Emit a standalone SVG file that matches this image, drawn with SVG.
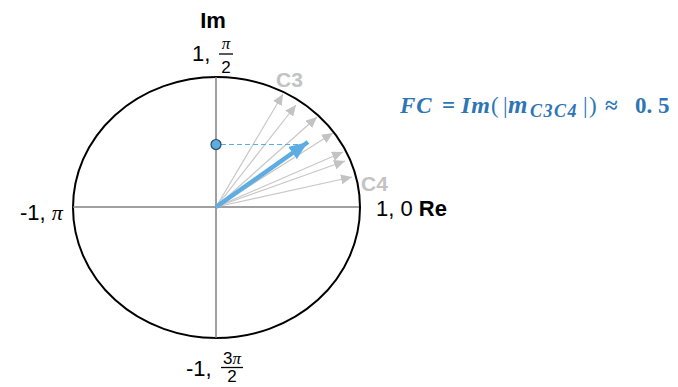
<svg xmlns="http://www.w3.org/2000/svg" width="678" height="387" viewBox="0 0 678 387">
<style>
.lbl{font-family:"Liberation Sans",Arial,sans-serif;font-size:22px;fill:#000}
.b{font-weight:bold}
.frac{font-family:"Liberation Sans",Arial,sans-serif;font-size:17px;fill:#000}
.pi{font-family:"Liberation Serif","DejaVu Serif",serif;font-style:italic}
.cl{font-family:"Liberation Sans",Arial,sans-serif;font-size:21px;font-weight:bold;fill:#c3c3c3}
.gray{stroke:#c8c8c8;stroke-width:1.2;fill:none}
.fx{font-family:"Liberation Serif","DejaVu Serif",serif;font-weight:bold;fill:#2e75b6;font-size:23px}
</style>
<defs>
<marker id="ga" markerUnits="userSpaceOnUse" markerWidth="12" markerHeight="10" refX="11" refY="5" orient="auto">
<path d="M0,0 L11,5 L0,10 Z" fill="#c3c3c3"/>
</marker>
<marker id="ba" markerUnits="userSpaceOnUse" markerWidth="20" markerHeight="15" refX="19" refY="7.5" orient="auto">
<path d="M0,0 L19,7.5 L0,15 Z" fill="#5dade2"/>
</marker>
</defs>
<g id="plane">
<ellipse cx="216.5" cy="207.5" rx="143.5" ry="130.5" fill="none" stroke="#000" stroke-width="2"/>
<line x1="216" y1="77" x2="216" y2="338" stroke="#808080" stroke-width="1.5"/>
<line x1="73" y1="207" x2="359" y2="207" stroke="#808080" stroke-width="1.5"/>
</g>
<g id="connectors">
<line class="gray" x1="216" y1="207" x2="283" y2="94" marker-end="url(#ga)"/>
<line class="gray" x1="216" y1="207" x2="296" y2="105" marker-end="url(#ga)"/>
<line class="gray" x1="216" y1="207" x2="317" y2="117" marker-end="url(#ga)"/>
<line class="gray" x1="216" y1="207" x2="333" y2="133" marker-end="url(#ga)"/>
<line class="gray" x1="216" y1="207" x2="343" y2="152" marker-end="url(#ga)"/>
<line class="gray" x1="216" y1="207" x2="345" y2="161" marker-end="url(#ga)"/>
<line class="gray" x1="216" y1="207" x2="352" y2="177" marker-end="url(#ga)"/>
<line x1="221" y1="144.5" x2="305" y2="144.5" stroke="#5dade2" stroke-width="1.2" stroke-dasharray="5,3"/>
<line x1="216" y1="207" x2="308" y2="142" stroke="#5dade2" stroke-width="4.5" marker-end="url(#ba)"/>
</g>
<g id="dot">
<circle cx="216" cy="144.5" r="5" fill="#5dade2" stroke="#2b4a66" stroke-width="1.2"/>
</g>
<g id="label-im"><text class="lbl b" x="213" y="28" text-anchor="middle">Im</text></g>
<g id="label-top">
<text class="lbl" x="192" y="61">1,</text>
<text class="frac pi" x="226" y="49" text-anchor="middle">π</text>
<line x1="219" y1="54" x2="233" y2="54" stroke="#000" stroke-width="1.3"/>
<text class="frac" x="226" y="73" text-anchor="middle">2</text>
</g>
<g id="label-left">
<text class="lbl" x="20" y="220">-1, <tspan class="pi">π</tspan></text>
</g>
<g id="label-right">
<text class="lbl" x="376" y="216">1, 0 <tspan class="b">Re</tspan></text>
</g>
<g id="label-bottom">
<text class="lbl" x="186" y="376">-1,</text>
<text class="frac" x="232" y="364" text-anchor="middle">3<tspan class="pi">π</tspan></text>
<line x1="221" y1="367.5" x2="243" y2="367.5" stroke="#000" stroke-width="1.3"/>
<text class="frac" x="232" y="382" text-anchor="middle">2</text>
</g>
<g id="label-c3"><text class="cl" x="276" y="87">C3</text></g>
<g id="label-c4"><text class="cl" x="361" y="191">C4</text></g>
<g id="formula">
<text class="fx" x="400" y="113"><tspan font-style="italic" letter-spacing="1">FC</tspan><tspan x="442">=</tspan><tspan x="461" font-style="italic" font-size="24" letter-spacing="1">Im</tspan><tspan x="491" font-weight="normal">(</tspan><tspan x="503" font-weight="normal">|</tspan><tspan x="508" font-style="italic" font-size="25">m</tspan><tspan x="530" font-style="italic" font-size="18" letter-spacing="1.5" dy="4">C3C4</tspan><tspan x="583" dy="-4" font-weight="normal">|</tspan><tspan x="589" font-weight="normal">)</tspan><tspan x="605">≈</tspan><tspan x="635">0. 5</tspan></text>
</g>
</svg>
